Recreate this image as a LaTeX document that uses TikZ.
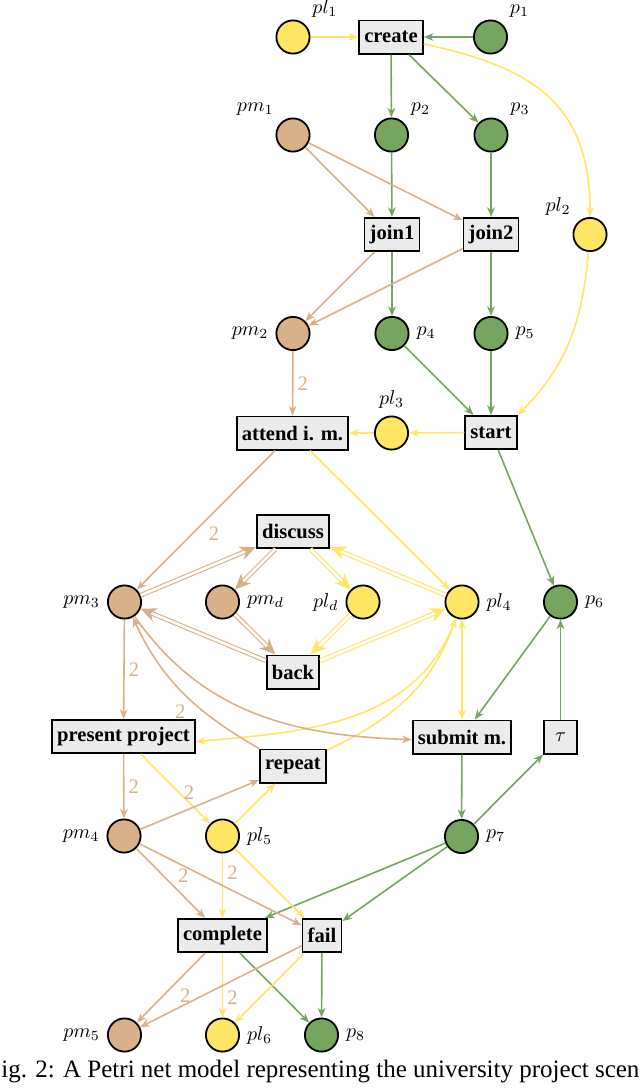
\documentclass[tikz,border=0pt]{standalone}
\usepackage[no-math]{fontspec}
\setmainfont{Liberation Serif}
\usetikzlibrary{arrows.meta}

\definecolor{pgreen}{RGB}{118,165,96}
\definecolor{ptan}{RGB}{217,177,137}
\definecolor{pyellow}{RGB}{255,230,100}
\definecolor{tgray}{RGB}{235,235,235}

\begin{document}
\begin{tikzpicture}[x=0.5pt,y=-0.5pt,font=\fontsize{10.3}{12}\selectfont,
    >={Stealth[length=4.8pt,width=3.8pt,inset=1.4pt]}]
      \tikzstyle{place}=[circle,draw,line width=0.9pt,minimum size=16.6pt,inner sep=0pt]
      \tikzstyle{g place}=[place,fill=pgreen]
      \tikzstyle{t place}=[place,fill=ptan]
      \tikzstyle{y place}=[place,fill=pyellow]
      \tikzstyle{trans}=[rectangle,draw,line width=0.9pt,fill=tgray,inner xsep=2.6pt,inner ysep=0pt,minimum height=16.6pt,font=\fontsize{10.3}{12}\selectfont\bfseries]
      \tikzstyle{g arc}=[draw=pgreen,line width=0.8pt,->]
      \tikzstyle{t arc}=[draw=ptan,line width=0.8pt,->]
      \tikzstyle{y arc}=[draw=pyellow,line width=0.8pt,->]
      \tikzstyle{dbl}=[line width=0.55pt,double=white,double distance=1.3pt,-{Stealth[length=8pt,width=7pt,inset=2.4pt]}]
      \tikzstyle{weight}=[text=ptan,inner sep=2pt]

      \useasboundingbox (0,0) rectangle (640,1088);

      % places and transitions, row by row
      \node(pl1)[y place,label=45:$pl_1$] at (293,37) {};
      \node(create)[trans] at (391,37) {create};
      \node(p1)[g place,label=45:$p_1$] at (490.5,37) {};
      \node(pm1)[t place,label=135:$pm_1$] at (293,135) {};
      \node(p2)[g place,label=45:$p_2$] at (391.5,135) {};
      \node(p3)[g place,label=45:$p_3$] at (491,135) {};
      \node(pl2)[y place,label=135:$pl_2$] at (590,234.5) {};
      \node(join1)[trans] at (392,234.5) {join1};
      \node(join2)[trans] at (491,234.5) {join2};
      \node(pm2)[t place,label=180:$pm_2$] at (293,333.5) {};
      \node(p4)[g place,label=0:$p_4$] at (392,333.5) {};
      \node(p5)[g place,label=0:$p_5$] at (491,333.5) {};
      \node(attend)[trans] at (292.5,433) {attend i. m.};
      \node(pl3)[y place,label=90:$pl_3$] at (391.5,433) {};
      \node(start)[trans] at (491,432.5) {start};
      \node(discuss)[trans] at (293,531.5) {discuss};
      \node(pm3)[t place,label=180:$pm_3$] at (124.5,602) {};
      \node(pmd)[t place,label=0:$pm_d$] at (222.5,602) {};
      \node(pld)[y place,label=180:$pl_d$] at (363,602) {};
      \node(pl4)[y place,label=0:$pl_4$] at (462,602) {};
      \node(p6)[g place,label=0:$p_6$] at (560.5,602) {};
      \node(back)[trans] at (293,672) {back};
      \node(present)[trans] at (123.5,736.5) {present project};
      \node(submit)[trans] at (462,737) {submit m.};
      \node(tau)[trans,font=\normalfont,minimum width=16.6pt] at (560.5,737) {$\tau$};
      \node(repeat)[trans] at (293,766) {repeat};
      \node(pm4)[t place,label=180:$pm_4$] at (124,836) {};
      \node(pl5)[y place,label=0:$pl_5$] at (222.5,836) {};
      \node(p7)[g place,label=0:$p_7$] at (461.5,836.5) {};
      \node(complete)[trans] at (222.5,935.5) {complete};
      \node(fail)[trans] at (322,935.5) {fail};
      \node(pm5)[t place,label=180:$pm_5$] at (124.5,1035) {};
      \node(pl6)[y place,label=0:$pl_6$] at (222.5,1035) {};
      \node(p8)[g place,label=0:$p_8$] at (321.5,1035) {};

      % green arcs
      \draw[g arc] (p1) -- (create);
      \draw[g arc] (create) -- (p2);
      \draw[g arc] (create) -- (p3);
      \draw[g arc] (p2) -- (join1);
      \draw[g arc] (p3) -- (join2);
      \draw[g arc] (join1) -- (p4);
      \draw[g arc] (join2) -- (p5);
      \draw[g arc] (p4) -- (start);
      \draw[g arc] (p5) -- (start);
      \draw[g arc] (start) -- (p6);
      \draw[g arc] (p6) -- (submit);
      \draw[g arc] (submit) -- (p7);
      \draw[g arc] (p7) -- (tau);
      \draw[g arc] (tau) -- (p6);
      \draw[g arc] (p7) -- (complete);
      \draw[g arc] (p7) -- (fail);
      \draw[g arc] (complete) -- (p8);
      \draw[g arc] (fail) -- (p8);

      % yellow arcs
      \draw[y arc] (pl1) -- (create);
      \draw[y arc] (create) to[out=-12,in=90,looseness=1.2] (pl2);
      \draw[y arc] (pl2) to[out=-95,in=45] (start.north east);
      \draw[y arc] (start) -- (pl3);
      \draw[y arc] (pl3) -- (attend);
      \draw[y arc] (attend) -- (pl4);
      \draw[y arc] (pl4) to[out=-110,in=5] (present.-4);
      \draw[y arc] (repeat) to[out=25,in=-110] (pl4);
      \draw[y arc,<->] (pl4) -- (submit);
      \draw[y arc] (present) -- node[weight,pos=0.55,right]{2} (pl5);
      \draw[y arc] (pl5) -- (repeat);
      \draw[y arc] (pl5) -- node[weight,pos=0.3,right]{2} (complete);
      \draw[y arc] (pl5) -- (fail);
      \draw[y arc] (complete) -- node[weight,pos=0.7,right]{2} (pl6);
      \draw[y arc] (fail) -- (pl6);

      % tan arcs
      \draw[t arc] (pm1) -- (join1);
      \draw[t arc] (pm1) -- (join2);
      \draw[t arc] (join1) -- (pm2);
      \draw[t arc] (join2) -- (pm2);
      \draw[t arc] (pm2) -- node[weight,right]{2} (attend);
      \draw[t arc] (attend) -- node[weight,pos=0.6,right=6pt]{2} (pm3);
      \draw[t arc] (pm3) -- node[weight,right]{2} (present);
      \draw[t arc] (present) -- node[weight,right]{2} (pm4);
      \draw[t arc] (repeat.north west) to[out=150,in=-65] node[weight,pos=0.45,below left]{2} (pm3.-62);
      \draw[t arc] (pm3) to[out=-55,in=178] (submit.183);
      \draw[t arc] (pm4) -- (repeat);
      \draw[t arc] (pm4) -- (complete);
      \draw[t arc] (pm4) -- node[weight,pos=0.27,below,inner sep=1pt]{2} (fail);
      \draw[t arc] (complete) -- (pm5);
      \draw[t arc] (fail) -- node[weight,pos=0.72,above,inner sep=0.5pt]{2} (pm5);

      % double arcs round discuss and back
      \draw[ptan,dbl] (pm3) -- (discuss);
      \draw[ptan,dbl] (discuss) -- (pmd);
      \draw[ptan,dbl] (pmd) -- (back);
      \draw[ptan,dbl] (back) -- (pm3);
      \draw[pyellow,dbl] (discuss) -- (pld);
      \draw[pyellow,dbl] (pld) -- (back);
      \draw[pyellow,dbl] (back) -- (pl4);
      \draw[pyellow,dbl] (pl4) -- (discuss);

      \node(caption)[anchor=base west,inner sep=0pt,font=\fontsize{12.5}{15}\selectfont] at (1,1077) {ig. 2: A Petri net model representing the university project scen};
\end{tikzpicture}
\end{document}
